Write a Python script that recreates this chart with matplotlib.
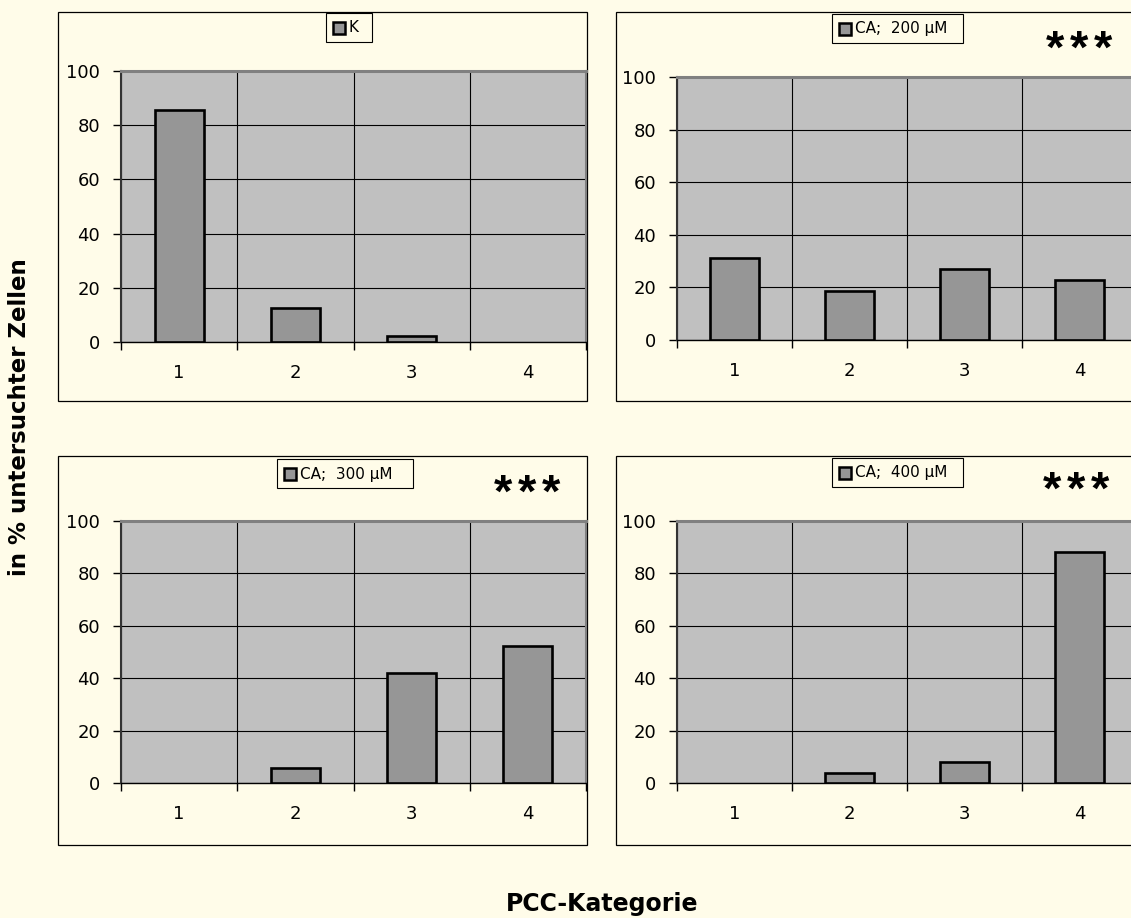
import matplotlib
matplotlib.use("Agg")
import matplotlib.pyplot as plt
from matplotlib.patches import Rectangle
import numpy as np

# ---- data -------------------------------------------------------------
categories = [1, 2, 3, 4]
series_labels = ["K", "CA;  200 µM", "CA;  300 µM", "CA;  400 µM"]
values_k = [85.5, 12.4, 2.1, 0.0]
values_ca200 = [31.3, 18.8, 27.0, 22.9]
values_ca300 = [0.0, 5.8, 42.1, 52.1]
values_ca400 = [0.0, 4.0, 8.0, 88.0]
significance = ["", "***", "***", "***"]
y_ticks = [0, 20, 40, 60, 80, 100]
y_label = "in % untersuchter Zellen"
x_label = "PCC-Kategorie"

all_values = [values_k, values_ca200, values_ca300, values_ca400]

# ---- style ------------------------------------------------------------
BG = "#FFFCE9"
PLOT_BG = "#C0C0C0"
BAR = "#969696"
W, H = 1131, 918

plt.rcParams["font.family"] = ["DejaVu Sans"]

fig = plt.figure(figsize=(W / 100, H / 100), dpi=100, facecolor=BG)

# background layer in pixel coordinates (frames, legends, annotations)
bg = fig.add_axes([0, 0, 1, 1], zorder=0)
bg.set_xlim(0, W)
bg.set_ylim(H, 0)
bg.axis("off")


def px_axes(left, top, right, bottom):
    return [left / W, 1 - bottom / H, (right - left) / W, (bottom - top) / H]


# panel geometry in pixels: chart frame, plot area, legend box, star centre
frames = [(58, 12, 587, 401), (616, 12, 1140, 401),
          (58, 456, 587, 845), (616, 456, 1140, 845)]
plot_areas = [(121, 71, 586, 342), (677, 77, 1137, 340),
              (121, 521, 586, 783), (677, 521, 1137, 783)]
legend_boxes = [(326, 13, 372, 42), (832, 14, 963, 43),
                (277, 459, 413, 488), (832, 458, 963, 487)]
star_pos = [None, (1079, 63), (527, 507), (1076, 504)]
STAR_STEP = 24

for i in range(4):
    fx0, fy0, fx1, fy1 = frames[i]
    bg.add_patch(Rectangle((fx0, fy0), fx1 - fx0, fy1 - fy0,
                           facecolor=BG, edgecolor="black", linewidth=0.9))

    # legend
    lx0, ly0, lx1, ly1 = legend_boxes[i]
    bg.add_patch(Rectangle((lx0, ly0), lx1 - lx0, ly1 - ly0,
                           facecolor=BG, edgecolor="black", linewidth=0.8))
    ymid = (ly0 + ly1) / 2
    bg.add_patch(Rectangle((lx0 + 7, ymid - 6), 12, 12,
                           facecolor=BAR, edgecolor="black", linewidth=1.8))
    bg.text(lx0 + 23, ymid + 0.5, series_labels[i], fontsize=11,
            ha="left", va="center", color="black")

    # significance stars, one glyph at a time
    if significance[i]:
        sx, sy = star_pos[i]
        n = len(significance[i])
        for k, ch in enumerate(significance[i]):
            bg.text(sx + (k - (n - 1) / 2) * STAR_STEP, sy, ch, fontsize=34,
                    fontweight="bold", family="Liberation Sans",
                    ha="center", va="baseline", color="black")

    # the plot area
    ax = fig.add_axes(px_axes(*plot_areas[i]), zorder=1)
    ax.set_facecolor(PLOT_BG)
    vals = all_values[i]
    lws = [1.9 if v > 0 else 0 for v in vals]
    ax.bar(categories, vals, width=0.42, color=BAR, edgecolor="black",
           linewidth=lws, zorder=3)
    ax.set_xlim(0.5, 4.5)
    ax.set_ylim(0, 100)

    ax.set_yticks(y_ticks)
    ax.set_xticks(np.arange(0.5, 4.6, 1.0))
    ax.set_xticklabels([])
    ax.set_xticks(categories, minor=True)
    ax.set_xticklabels([str(c) for c in categories], minor=True)
    ax.tick_params(axis="x", which="minor", length=0, pad=15.5, labelsize=13)
    ax.tick_params(axis="x", which="major", direction="out", length=5.5,
                   width=1, color="black")
    ax.tick_params(axis="y", direction="out", length=5.5, width=1,
                   color="black", pad=9.5, labelsize=13)

    ax.set_axisbelow(True)
    ax.grid(True, which="major", color="black", linewidth=0.8)

    ax.spines["top"].set_color("#808080")
    ax.spines["top"].set_linewidth(2.2)
    ax.spines["right"].set_color("#808080")
    ax.spines["right"].set_linewidth(1.5)
    ax.spines["left"].set_color("#333333")
    ax.spines["left"].set_linewidth(1.5)
    ax.spines["bottom"].set_color("black")
    ax.spines["bottom"].set_linewidth(1.0)

bg.text(26, 417, y_label, rotation=90, rotation_mode="anchor",
        ha="center", va="baseline", fontsize=16.5, fontweight="bold")
bg.text(602, 911, x_label, ha="center", va="baseline", fontsize=17,
        fontweight="bold")

fig.savefig("out.png", dpi=100, facecolor=BG)
